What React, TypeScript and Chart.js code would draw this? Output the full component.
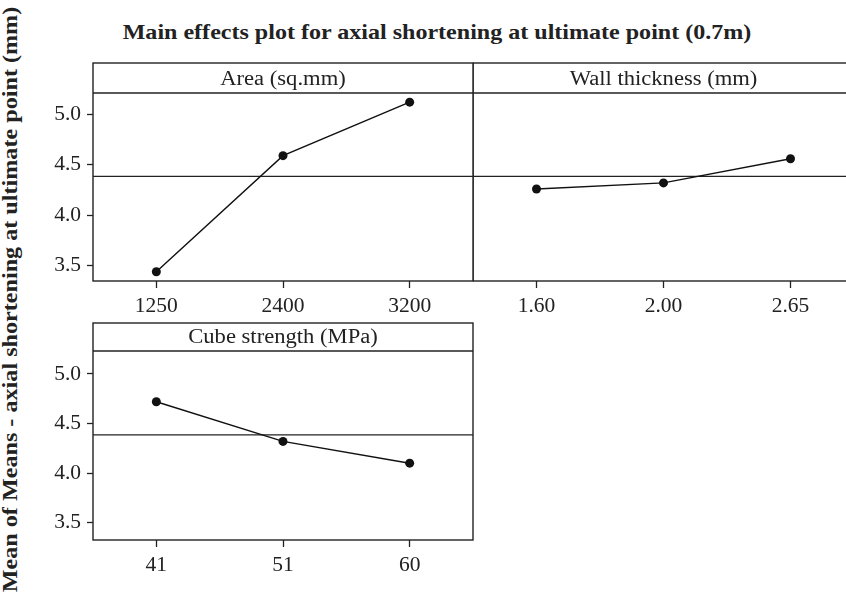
import React, { useEffect, useRef } from "react";
import { Chart, registerables } from "chart.js";

Chart.register(...registerables);

// ---- data ----
const TITLE = "Main effects plot for axial shortening at ultimate point (0.7m)";
const Y_LABEL = "Mean of Means - axial shortening at ultimate point (mm)";

const areaName = "Area (sq.mm)";
const areaLevels = ["1250", "2400", "3200"];
const areaMeans = [3.44, 4.59, 5.12];

const wallName = "Wall thickness (mm)";
const wallLevels = ["1.60", "2.00", "2.65"];
const wallMeans = [4.26, 4.32, 4.56];

const cubeName = "Cube strength (MPa)";
const cubeLevels = ["41", "51", "60"];
const cubeMeans = [4.72, 4.32, 4.1];

const grandMean = 4.385;
const yTicks = [3.5, 4.0, 4.5, 5.0];

// ---- style ----
const FONT = '"Liberation Serif", "Times New Roman", serif';
const INK = "#222";

const panelPlugin = {
  id: "panelFrame",
  beforeDatasetsDraw(chart: any, _args: any, opts: any) {
    const { ctx, chartArea: a, scales } = chart;
    const y = scales.y.getPixelForValue(opts.mean);
    ctx.save();
    ctx.strokeStyle = INK;
    ctx.lineWidth = 1.3;
    ctx.beginPath();
    ctx.moveTo(a.left, y);
    ctx.lineTo(a.right, y);
    ctx.stroke();
    ctx.restore();
  },
  afterDraw(chart: any, _args: any, opts: any) {
    const { ctx, chartArea: a } = chart;
    ctx.save();
    ctx.strokeStyle = INK;
    ctx.lineWidth = 1.4;
    ctx.strokeRect(a.left, a.top - opts.headerH, a.right - a.left, a.bottom - a.top + opts.headerH);
    ctx.beginPath();
    ctx.moveTo(a.left, a.top);
    ctx.lineTo(a.right, a.top);
    ctx.stroke();
    ctx.fillStyle = INK;
    ctx.font = `20px ${FONT}`;
    ctx.textAlign = "center";
    ctx.textBaseline = "alphabetic";
    ctx.translate((a.left + a.right) / 2, a.top - 8.5);
    ctx.scale(1.13, 1);
    ctx.fillText(opts.text, 0, 0);
    ctx.restore();
  },
};

type PanelProps = {
  name: string;
  levels: string[];
  means: number[];
  showY: boolean;
  box: { left: number; top: number; width: number; height: number };
  pad: { left: number; top: number; right: number; bottom: number };
  headerH: number;
  yMin: number;
  yMax: number;
};

function Panel(p: PanelProps) {
  const ref = useRef<HTMLCanvasElement | null>(null);
  useEffect(() => {
    if (!ref.current) return;
    const yScale: any = {
      display: p.showY,
      min: p.yMin,
      max: p.yMax,
      afterBuildTicks: (s: any) => {
        s.ticks = yTicks.map((v) => ({ value: v }));
      },
      afterFit: (s: any) => {
        if (p.showY) s.width = 93;
      },
      grid: {
        drawOnChartArea: false,
        drawTicks: true,
        tickLength: 6,
        tickColor: INK,
        tickWidth: 1.3,
      },
      border: { display: false },
      ticks: {
        color: INK,
        font: { family: FONT, size: 21.5 },
        padding: 6,
        callback: (v: any) => Number(v).toFixed(1),
      },
    };
    const chart = new Chart(ref.current, {
      type: "line",
      data: {
        labels: p.levels,
        datasets: [
          {
            data: p.means,
            borderColor: "#111",
            backgroundColor: "#111",
            borderWidth: 1.4,
            pointRadius: 4.5,
            pointBackgroundColor: "#111",
            pointBorderWidth: 0,
            tension: 0,
            clip: false as any,
          },
        ],
      },
      options: {
        animation: false,
        responsive: false,
        maintainAspectRatio: false,
        layout: { padding: p.pad, autoPadding: false },
        plugins: {
          legend: { display: false },
          tooltip: { enabled: false },
          panelFrame: { mean: grandMean, headerH: p.headerH, text: p.name },
        } as any,
        scales: {
          x: {
            type: "category",
            offset: true,
            grid: {
              drawOnChartArea: false,
              drawTicks: true,
              tickLength: 7,
              tickColor: INK,
              tickWidth: 1.3,
            },
            border: { display: false },
            ticks: {
              color: INK,
              font: { family: FONT, size: 21.5 },
              padding: 5,
              maxRotation: 0,
              autoSkip: false,
            },
            afterFit: (s: any) => {
              s.height = 36;
            },
          },
          y: yScale,
        },
      },
      plugins: [panelPlugin as any],
    });
    return () => chart.destroy();
  }, []);
  return (
    <canvas
      ref={ref}
      width={p.box.width}
      height={p.box.height}
      style={{
        position: "absolute",
        left: p.box.left,
        top: p.box.top,
        width: p.box.width,
        height: p.box.height,
      }}
    />
  );
}

export default function App() {
  return (
    <div
      style={{
        position: "fixed",
        left: 0,
        top: 0,
        width: 846,
        height: 598,
        overflow: "hidden",
        background: "#fff",
      }}
    >
      <div
        style={{
          position: "absolute",
          left: 36.7,
          width: 800,
          top: 21.7,
          lineHeight: "21px",
          fontFamily: FONT,
          fontWeight: "bold",
          fontSize: 21,
          textAlign: "center",
          whiteSpace: "nowrap",
          color: INK,
          transform: "scaleX(1.145)",
          transformOrigin: "50% 50%",
        }}
      >
        {TITLE}
      </div>
      <div
        style={{
          position: "absolute",
          left: 10.2 - 300,
          top: 299 - 10.5,
          width: 600,
          height: 21,
          lineHeight: "21px",
          fontFamily: FONT,
          fontWeight: "bold",
          fontSize: 21,
          textAlign: "center",
          whiteSpace: "nowrap",
          color: INK,
          transform: "rotate(-90deg) scaleX(1.15)",
          transformOrigin: "50% 50%",
        }}
      >
        {Y_LABEL}
      </div>
      <Panel
        name={areaName}
        levels={areaLevels}
        means={areaMeans}
        showY={true}
        box={{ left: 0, top: 0, width: 474, height: 320 }}
        pad={{ left: 0, top: 93, right: 1, bottom: 3 }}
        headerH={30}
        yMin={3.348}
        yMax={5.211}
      />
      <Panel
        name={wallName}
        levels={wallLevels}
        means={wallMeans}
        showY={false}
        box={{ left: 473, top: 0, width: 381, height: 320 }}
        pad={{ left: 0, top: 93, right: 0, bottom: 3 }}
        headerH={30}
        yMin={3.348}
        yMax={5.211}
      />
      <Panel
        name={cubeName}
        levels={cubeLevels}
        means={cubeMeans}
        showY={true}
        box={{ left: 0, top: 300, width: 474, height: 298 }}
        pad={{ left: 0, top: 51, right: 1, bottom: 22 }}
        headerH={28}
        yMin={3.325}
        yMax={5.232}
      />
    </div>
  );
}
